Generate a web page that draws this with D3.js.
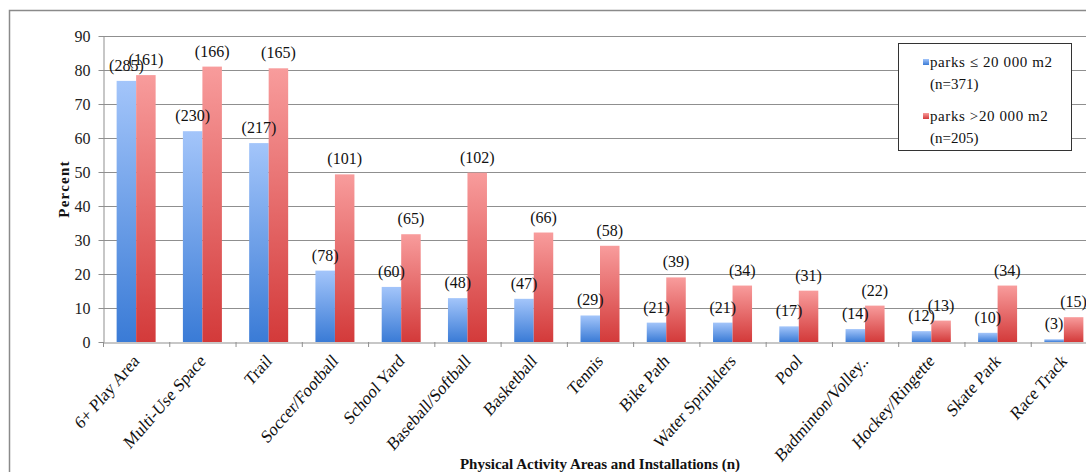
<!DOCTYPE html>
<html>
<head>
<meta charset="utf-8">
<script src="https://cdn.jsdelivr.net/npm/d3@7"></script>
<style>
  html, body { margin: 0; padding: 0; background: #fff; }
  svg { display: block; font-family: "Liberation Serif", "DejaVu Serif", serif; }
</style>
</head>
<body>
<svg id="chart" width="1086" height="472"></svg>
<script>
// Physical activity areas and installations, share of parks (%) by park size
const categories = [
  "6+ Play Area", "Multi-Use Space", "Trail", "Soccer/Football", "School Yard",
  "Baseball/Softball", "Basketball", "Tennis", "Bike Path", "Water Sprinklers",
  "Pool", "Badminton/Volley..", "Hockey/Ringette", "Skate Park", "Race Track"
];
// parks <= 20 000 m2 (n=371)
const smallPct = [76.8, 62.0, 58.5, 21.0, 16.2, 12.9, 12.7, 7.8, 5.7, 5.7, 4.6, 3.8, 3.2, 2.7, 0.8];
const smallN   = [285, 230, 217, 78, 60, 48, 47, 29, 21, 21, 17, 14, 12, 10, 3];
// parks > 20 000 m2 (n=205)
const largePct = [78.5, 81.0, 80.5, 49.3, 31.7, 49.8, 32.2, 28.3, 19.0, 16.6, 15.1, 10.7, 6.3, 16.6, 7.3];
const largeN   = [161, 166, 165, 101, 65, 102, 66, 58, 39, 34, 31, 22, 13, 34, 15];
const yTicks = [0, 10, 20, 30, 40, 50, 60, 70, 80, 90];
const seriesNames = ["small", "large"];
const legendLines = [
  ["parks \u2264 20 000 m2", "(n=371)"],
  ["parks >20 000 m2", "(n=205)"]
];

const svg = d3.select("#chart");
const W = 1086, H = 472;
const plot = { left: 103, right: 1097, top: 36, bottom: 342 };

// outer frame
svg.append("rect")
  .attr("x", 9.5).attr("y", 10.5)
  .attr("width", 1200).attr("height", 600)
  .attr("fill", "none").attr("stroke", "#8a8a8a").attr("stroke-width", 1.5);

// vertical gradients for the two series
const defs = svg.append("defs");
const grads = {
  small: ["#a3c5fa", "#3a7bd6"],
  large: ["#f89c9c", "#d33a3a"]
};
Object.entries(grads).forEach(([k, c]) => {
  const g = defs.append("linearGradient").attr("id", "g-" + k)
    .attr("x1", 0).attr("y1", 0).attr("x2", 0).attr("y2", 1);
  g.append("stop").attr("offset", "0%").attr("stop-color", c[0]);
  g.append("stop").attr("offset", "100%").attr("stop-color", c[1]);
});

const x = d3.scaleBand().domain(categories).range([plot.left, plot.right]);
const x1 = d3.scaleBand().domain(seriesNames).range([0, 39]);
const y = d3.scaleLinear().domain([0, 90]).range([plot.bottom, plot.top]);

// gridlines
svg.append("g").selectAll("line").data(yTicks.filter(t => t > 0)).join("line")
  .attr("x1", plot.left).attr("x2", W)
  .attr("y1", d => y(d) + 0.5).attr("y2", d => y(d) + 0.5)
  .attr("stroke", "#8f8f8f").attr("stroke-width", 1);

// y axis
const yAxis = svg.append("g")
  .attr("transform", `translate(${plot.left + 0.5},0)`)
  .call(d3.axisLeft(y).tickValues(yTicks).tickSize(5).tickPadding(8).tickSizeOuter(0));
yAxis.select(".domain").attr("stroke", "#8f8f8f");
yAxis.selectAll(".tick line").attr("stroke", "#8f8f8f");
yAxis.selectAll(".tick text")
  .attr("font-family", "Liberation Serif").attr("font-size", 16).attr("fill", "#222");

// bars
const rows = categories.map((c, i) => ({
  cat: c,
  vals: [
    { key: "small", v: smallPct[i], n: smallN[i] },
    { key: "large", v: largePct[i], n: largeN[i] }
  ]
}));
const barGroups = svg.append("g").selectAll("g").data(rows).join("g")
  .attr("transform", d => `translate(${x(d.cat) + x.bandwidth() / 2 - 19.5},0)`);
barGroups.selectAll("rect").data(d => d.vals).join("rect")
  .attr("x", d => x1(d.key))
  .attr("width", x1.bandwidth())
  .attr("y", d => y(d.v))
  .attr("height", d => y(0) - y(d.v))
  .attr("fill", d => `url(#g-${d.key})`);
barGroups.selectAll("text").data(d => d.vals).join("text")
  .attr("x", d => x1(d.key) + x1.bandwidth() / 2)
  .attr("y", d => y(d.v) - 10)
  .attr("text-anchor", "middle")
  .attr("font-size", 16).attr("fill", "#111")
  .text(d => `(${d.n})`);

// x axis
const xAxis = svg.append("g")
  .attr("transform", `translate(0,${plot.bottom + 0.5})`)
  .call(d3.axisBottom(x).tickSize(0).tickFormat(""));
xAxis.select(".domain").attr("stroke", "#8f8f8f");
// tick marks between categories
svg.append("g").selectAll("line").data(categories).join("line")
  .attr("x1", d => x(d) + 0.5).attr("x2", d => x(d) + 0.5)
  .attr("y1", plot.bottom).attr("y2", plot.bottom + 5)
  .attr("stroke", "#8f8f8f");

// slanted category labels
svg.append("g").selectAll("text").data(categories).join("text")
  .attr("transform", d => `translate(${x(d) + x.bandwidth() / 2 + 4},${plot.bottom + 20}) scale(1,1.15) rotate(-45)`)
  .attr("text-anchor", "end")
  .attr("font-size", 16).attr("fill", "#111")
  .text(d => d);

// axis titles
svg.append("text")
  .attr("x", 600).attr("y", 469)
  .attr("text-anchor", "middle")
  .attr("font-size", 15).attr("font-weight", "bold").attr("fill", "#111")
  .text("Physical Activity Areas and Installations (n)");
svg.append("text")
  .attr("transform", "translate(69,189) rotate(-90)")
  .attr("text-anchor", "middle")
  .attr("font-size", 15).attr("font-weight", "bold").attr("fill", "#111")
  .attr("letter-spacing", 1.2)
  .text("Percent");

// legend
const lg = svg.append("g");
lg.append("rect")
  .attr("x", 898.5).attr("y", 43.5).attr("width", 173).attr("height", 107)
  .attr("fill", "#fff").attr("stroke", "#333").attr("stroke-width", 1);
const lgItems = lg.selectAll("g").data(seriesNames).join("g")
  .attr("transform", (d, i) => `translate(923,${67 + i * 54})`);
lgItems.append("rect")
  .attr("x", 0).attr("y", -8).attr("width", 6).attr("height", 6)
  .attr("fill", d => `url(#g-${d})`);
lgItems.each(function (d, i) {
  const t = d3.select(this);
  t.append("text").attr("x", 7).attr("y", 0).attr("font-size", 15).attr("fill", "#111")
    .attr("letter-spacing", 0.6).text(legendLines[i][0]);
  t.append("text").attr("x", 7).attr("y", 22).attr("font-size", 15).attr("fill", "#111")
    .text(legendLines[i][1]);
});
</script>
</body>
</html>
